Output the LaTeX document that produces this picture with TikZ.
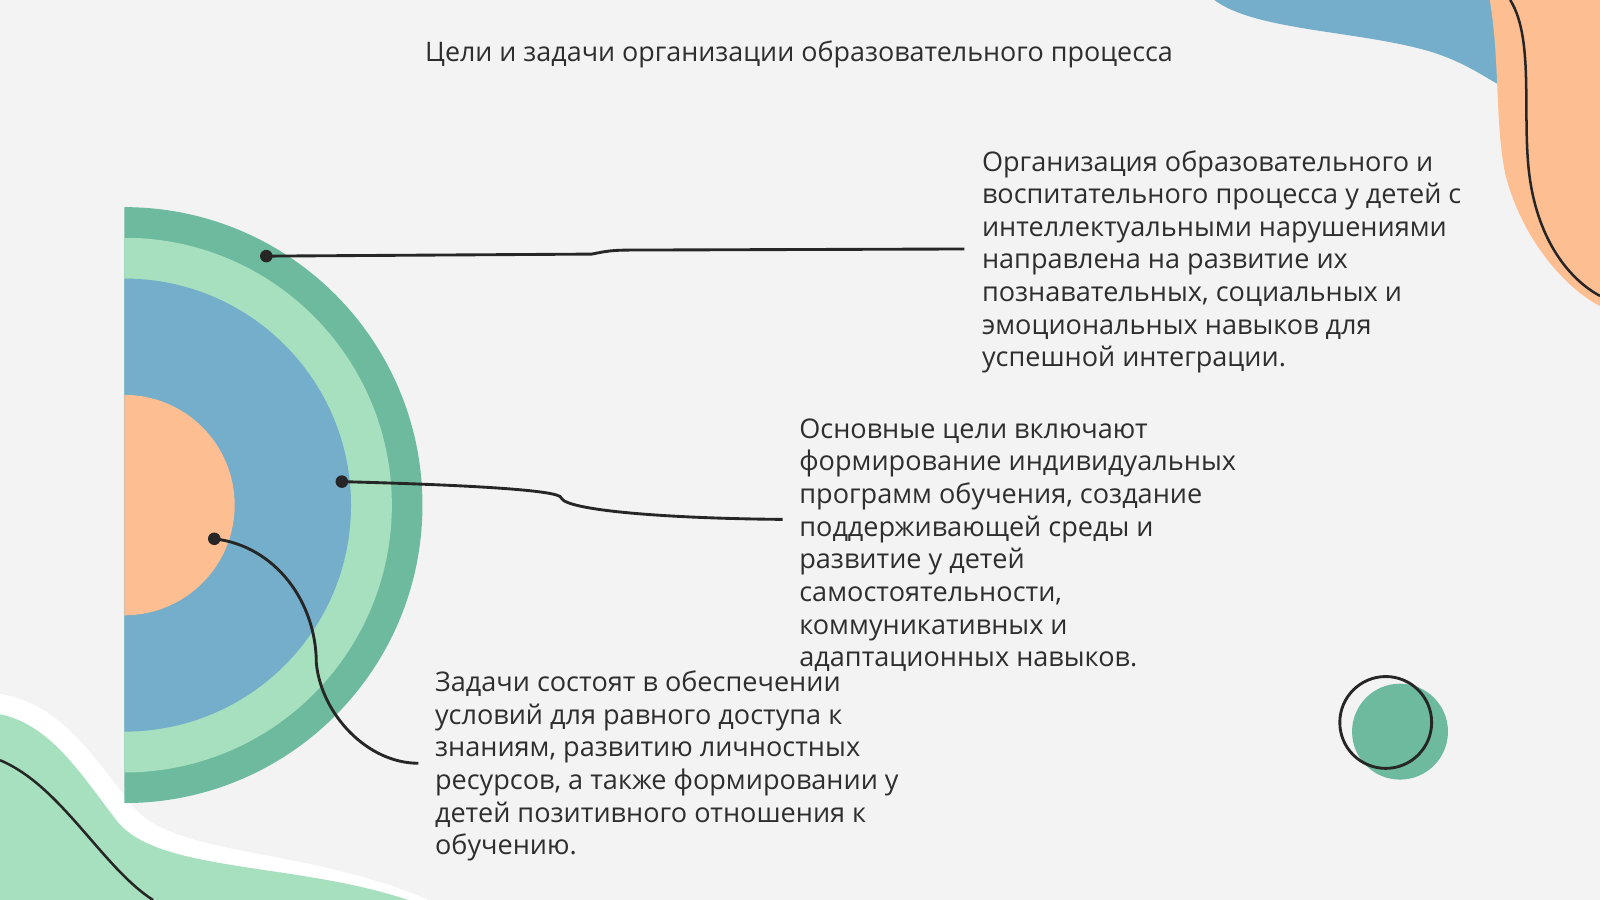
\documentclass[tikz,border=0pt]{standalone}
\usepackage{fontspec}
\setmainfont{Open Sans}
\definecolor{bg}{HTML}{F3F3F3}
\definecolor{teal}{HTML}{6DBA9F}
\definecolor{mint}{HTML}{A6E0BE}
\definecolor{blu}{HTML}{74AECB}
\definecolor{ora}{HTML}{FDBE92}
\definecolor{txt}{HTML}{2E2E2E}
\begin{document}
\begin{tikzpicture}[x=0.02cm,y=-0.02cm,
  body/.style={anchor=north west,align=left,font=\fontsize{15.1}{18.2}\selectfont,text=txt,inner sep=0pt},
  conn/.style={line width=1.6pt,black!85},
  dot/.style={circle,fill=black!85,inner sep=0pt,minimum size=7pt}]
\fill[bg] (0,0) rectangle (1568,882);
\useasboundingbox (0,0) rectangle (1568,882);
% top-right blobs
\fill[blu] (1190,0) .. controls (1230,30) and (1330,30) .. (1400,50) .. controls (1450,65) and (1470,90) .. (1490,90) -- (1490,0) -- cycle;
\fill[ora] (1460,0) .. controls (1470,60) and (1465,120) .. (1475,170) .. controls (1490,230) and (1530,280) .. (1568,300) -- (1568,0) -- cycle;
\draw[line width=1.4pt,black!85] (1480,0) .. controls (1505,40) and (1490,120) .. (1500,180) .. controls (1510,240) and (1540,275) .. (1568,290);
% bottom-left blob
\fill[white] (0,680) .. controls (60,690) and (90,740) .. (130,790) .. controls (170,840) and (300,830) .. (420,882) -- (0,882) -- cycle;
\fill[mint] (0,700) .. controls (50,710) and (80,760) .. (115,805) .. controls (155,855) and (290,845) .. (400,882) -- (0,882) -- cycle;
\draw[line width=1.4pt,black!85] (0,745) .. controls (60,770) and (100,850) .. (150,882);
% concentric half circles
\begin{scope}
\clip (122,150) rectangle (500,850);
\fill[teal] (122,495) circle[radius=292];
\fill[mint] (122,495) circle[radius=262];
\fill[blu] (122,495) circle[radius=222];
\fill[ora] (122,495) circle[radius=108];
\end{scope}
% small circles
\fill[teal] (1372,717) circle[radius=47];
\draw[line width=1.6pt,black!85] (1358,708) circle[radius=45];
% title
\node[font=\fontsize{15}{18}\selectfont,text=txt] (title) at (783,53) {Цели и задачи организации образовательного процесса};
% texts
\node[body] (t1) at (962,147) {Организация образовательного и\\воспитательного процесса у детей с\\интеллектуальными нарушениями\\направлена на развитие их\\познавательных, социальных и\\эмоциональных навыков для\\успешной интеграции.};
\node[body] (t2) at (783,410) {Основные цели включают\\формирование индивидуальных\\программ обучения, создание\\поддерживающей среды и\\развитие у детей\\самостоятельности,\\коммуникативных и\\адаптационных навыков.};
\node[body] (t3) at (426,657) {Задачи состоят в обеспечении\\условий для равного доступа к\\знаниям, развитию личностных\\ресурсов, а также формировании у\\детей позитивного отношения к\\обучению.};
% connectors
\node[dot] (d1) at (261,251) {};
\node[dot] (d2) at (335,472) {};
\node[dot] (d3) at (210,528) {};
\coordinate (e1) at (945,244);
\coordinate (e2) at (767,509);
\coordinate (e3) at (410,748);
\draw[conn] (d1.center) -- (580,249) .. controls (600,245) .. (640,245) -- (e1);
\draw[conn] (d2.center) .. controls (450,475) and (550,480) .. (550,488) .. controls (555,500) and (650,508) .. (e2);
\draw[conn] (d3.center) .. controls (270,535) and (310,590) .. (310,650) .. controls (315,700) and (360,748) .. (e3);
\end{tikzpicture}
\end{document}
